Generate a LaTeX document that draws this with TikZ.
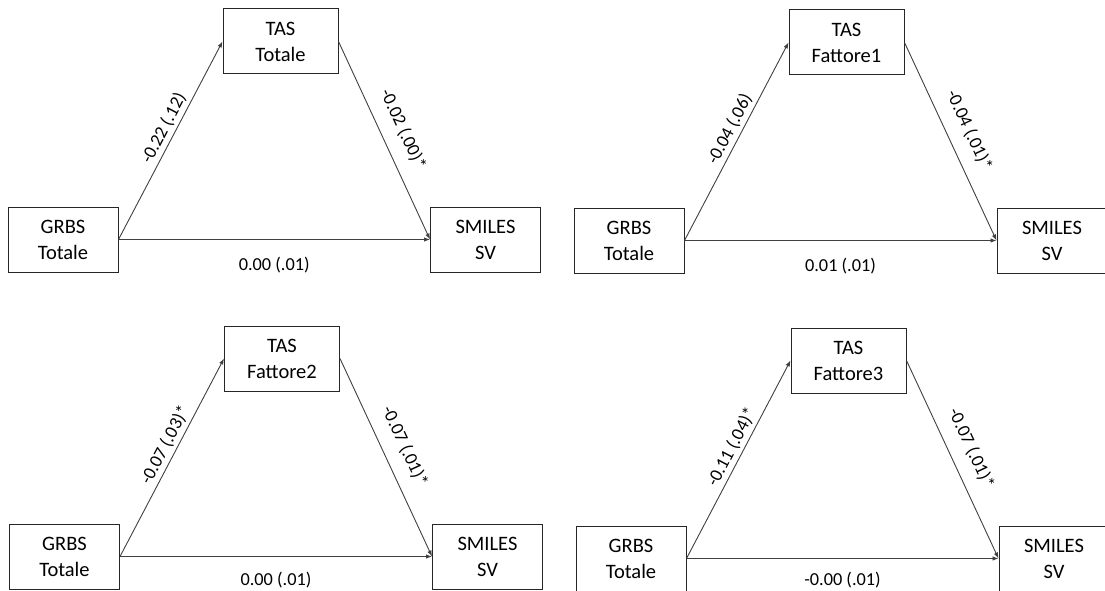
\documentclass[tikz,border=0pt]{standalone}
\usepackage{fontspec}
\setmainfont{Carlito}
\usetikzlibrary{arrows.meta}

\begin{document}
\begin{tikzpicture}[x=1pt, y=-1pt,
    box/.style={draw=black!85, line width=1pt, minimum width=110pt, minimum height=65pt,
        inner sep=0pt, align=center, font=\fontsize{20.5}{26}\selectfont},
    effetto/.style={draw=black!75, line width=0.9pt, -{Latex[length=6pt, width=4.5pt]}},
    coef/.style={font=\fontsize{18.3}{22}\selectfont, text=black, sloped}]

    % Frame
    \useasboundingbox (0,0) rectangle (1105,591);
    \clip (0,0) rectangle (1105,591);

    % TAS Totale
    \node[box] (G1) at (63,239.5) {GRBS\\Totale};
    \node[box, minimum width=115pt] (T1) at (280.5,41.5) {TAS\\Totale};
    \node[box] (S1) at (485.5,239.5) {SMILES\\SV};
    \draw[effetto] (G1.east) -- node[coef, above, pos=0.535] {-0.22 (.12)} (T1.west);
    \draw[effetto] (T1.east) -- node[coef, above=10pt, pos=0.49] {-0.02 (.00)*} (S1.west);
    \draw[effetto] (G1.east) -- node[coef, below=14pt] {0.00 (.01)} (S1.west);

    % TAS Fattore1
    \node[box] (G2) at (629,240.5) {GRBS\\Totale};
    \node[box, minimum width=115pt] (T2) at (846.5,42.5) {TAS\\Fattore1};
    \node[box] (S2) at (1052,240.5) {SMILES\\SV};
    \draw[effetto] (G2.east) -- node[coef, above, pos=0.535] {-0.04 (.06)} (T2.west);
    \draw[effetto] (T2.east) -- node[coef, above=10pt, pos=0.49] {-0.04 (.01)*} (S2.west);
    \draw[effetto] (G2.east) -- node[coef, below=14pt] {0.01 (.01)} (S2.west);

    % TAS Fattore2
    \node[box] (G3) at (64.5,556.5) {GRBS\\Totale};
    \node[box, minimum width=115pt] (T3) at (282,358.5) {TAS\\Fattore2};
    \node[box] (S3) at (487.5,556.5) {SMILES\\SV};
    \draw[effetto] (G3.east) -- node[coef, above, pos=0.535] {-0.07 (.03)*} (T3.west);
    \draw[effetto] (T3.east) -- node[coef, above=10pt, pos=0.49] {-0.07 (.01)*} (S3.west);
    \draw[effetto] (G3.east) -- node[coef, below=12pt] {0.00 (.01)} (S3.west);

    % TAS Fattore3
    \node[box] (G4) at (631,558.5) {GRBS\\Totale};
    \node[box, minimum width=115pt] (T4) at (848.5,360.5) {TAS\\Fattore3};
    \node[box] (S4) at (1054,558.5) {SMILES\\SV};
    \draw[effetto] (G4.east) -- node[coef, above, pos=0.535] {-0.11 (.04)*} (T4.west);
    \draw[effetto] (T4.east) -- node[coef, above=10pt, pos=0.49] {-0.07 (.01)*} (S4.west);
    \draw[effetto] (G4.east) -- node[coef, below=10pt] {-0.00 (.01)} (S4.west);

\end{tikzpicture}
\end{document}
